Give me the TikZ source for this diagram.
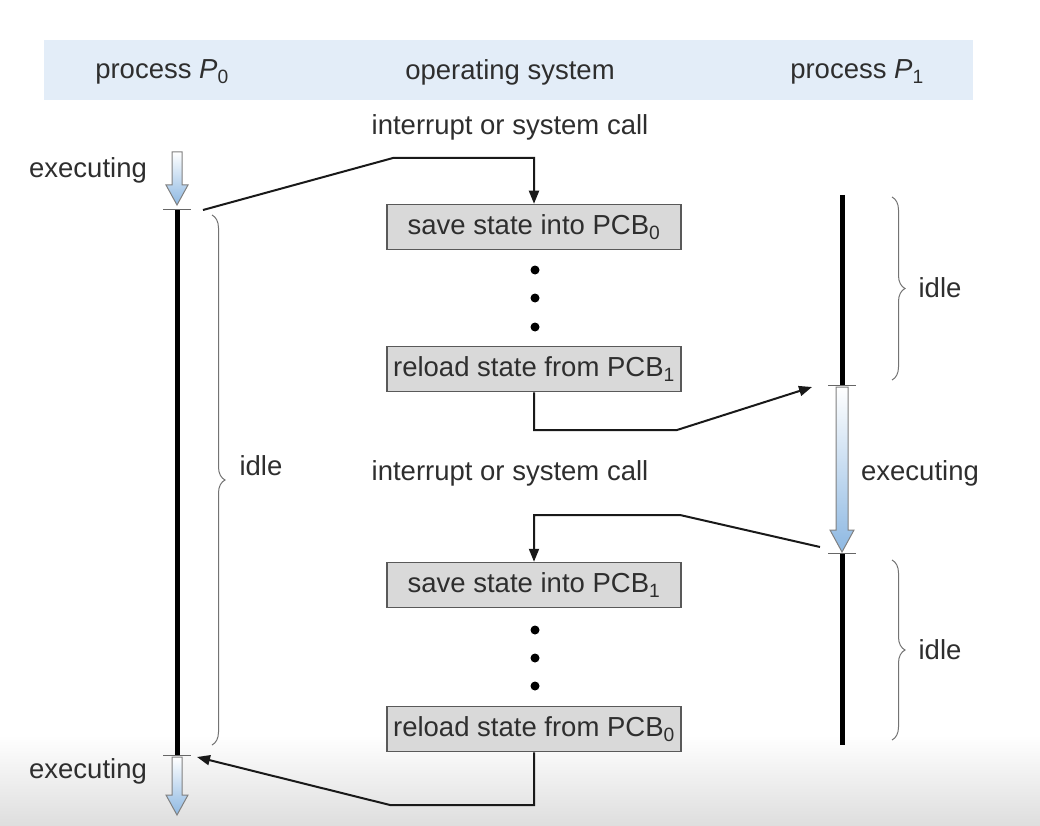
\documentclass[tikz,border=0pt]{standalone}
\usepackage{fontspec}
\setmainfont{Liberation Sans}
\usetikzlibrary{arrows.meta,decorations.pathreplacing,calc}
\definecolor{band}{HTML}{E3EDF8}
\definecolor{arrowblue}{HTML}{8DB8E2}
\definecolor{txt}{HTML}{2E2E2E}
\begin{document}
\begin{tikzpicture}[x=1pt,y=-1pt,
  lbl/.style={font=\fontsize{27.5}{31}\selectfont, text=txt, inner sep=0pt},
  box/.style={lbl, draw=black!65, line width=1.5pt, fill=black!15, minimum width=294pt, minimum height=45pt},
  conn/.style={line width=2pt, black!90},
  arr/.style={conn, -{Triangle[length=13pt,width=10pt]}},
  timeline/.style={line width=5pt, black},
  tick/.style={line width=1pt, black!60},
  brc/.style={decorate, decoration={brace, amplitude=13pt}, line width=1pt, black!55},
  dotnode/.style={circle, fill=black, inner sep=0pt, minimum size=9pt},
  bluearrow/.style={draw=black!50, line width=1pt, top color=white, bottom color=arrowblue}
]
\useasboundingbox (0,0) rectangle (1040,826);
% bottom shading
\shade[top color=white, bottom color=black!13, draw=none] (0,735) rectangle (1040,826);
% header band
\fill[band] (44,40) rectangle (973,100);
\node[lbl] (h0) at (162,72) {process \textit{P}\textsubscript{0}};
\node[lbl] (hos) at (510,72) {operating system};
\node[lbl] (h1) at (857,72) {process \textit{P}\textsubscript{1}};

% labels
\node[lbl] (int1) at (510,127) {interrupt or system call};
\node[lbl] (int2) at (510,473) {interrupt or system call};
\node[lbl] (ex0a) at (88,170) {executing};
\node[lbl] (ex0b) at (88,771) {executing};
\node[lbl] (ex1) at (920,473) {executing};
\node[lbl] (idle0) at (261,466) {idle};
\node[lbl] (idle1a) at (940,288) {idle};
\node[lbl] (idle1b) at (940,650) {idle};

% boxes
\node[box] (b1) at (534,227) {save state into PCB\textsubscript{0}};
\node[box] (b2) at (534,369) {reload state from PCB\textsubscript{1}};
\node[box] (b3) at (534,585) {save state into PCB\textsubscript{1}};
\node[box] (b4) at (534,729) {reload state from PCB\textsubscript{0}};

% dots
\node[dotnode] (d1) at (535,270) {};
\node[dotnode] (d2) at (535,298) {};
\node[dotnode] (d3) at (535,327) {};
\node[dotnode] (d4) at (535,630) {};
\node[dotnode] (d5) at (535,658) {};
\node[dotnode] (d6) at (535,686) {};

% timeline coordinates
\coordinate (p0a) at (177,210);
\coordinate (p0b) at (177,755);
\coordinate (p1top) at (842,195);
\coordinate (p1a) at (842,385);
\coordinate (p1b) at (842,553);
\coordinate (p1bot) at (842,745);

% blue arrows
\path[bluearrow] (172,152) -- (172,185) -- (166,185) -- (177,205) -- (188,185) -- (182,185) -- (182,152) -- cycle;
\path[bluearrow] (172,757) -- (172,795) -- (166,795) -- (177,815) -- (188,795) -- (182,795) -- (182,757) -- cycle;
\path[bluearrow] (836,387) -- (836,530) -- (830,530) -- (842,552) -- (854,530) -- (848,530) -- (848,387) -- cycle;

% timelines
\draw[timeline] (p0a) -- (p0b);
\draw[timeline] (p1top) -- (p1a);
\draw[timeline] (p1b) -- (p1bot);
\draw[tick] ($(p0a)+(-14,0)$) -- ($(p0a)+(14,0)$);
\draw[tick] ($(p0b)+(-14,0)$) -- ($(p0b)+(14,0)$);
\draw[tick] ($(p1a)+(-14,0)$) -- ($(p1a)+(14,0)$);
\draw[tick] ($(p1b)+(-14,0)$) -- ($(p1b)+(14,0)$);

% braces
\draw[brc] (212,215) -- (212,745);
\draw[brc] (892,197) -- (892,380);
\draw[brc] (892,560) -- (892,740);

% connectors
\coordinate (c1) at (203,210);
\coordinate (e2) at (812,387);
\coordinate (c3) at (820,547);
\coordinate (e4) at (197,757);
\draw[arr] (c1) -- (393,158) -| (b1.north);
\draw[arr] (b2.south) |- (677,430) -- (e2);
\draw[arr] (c3) -- (680,515) -| (b3.north);
\draw[arr] (b4.south) |- (390,805) -- (e4);
\end{tikzpicture}
\end{document}
